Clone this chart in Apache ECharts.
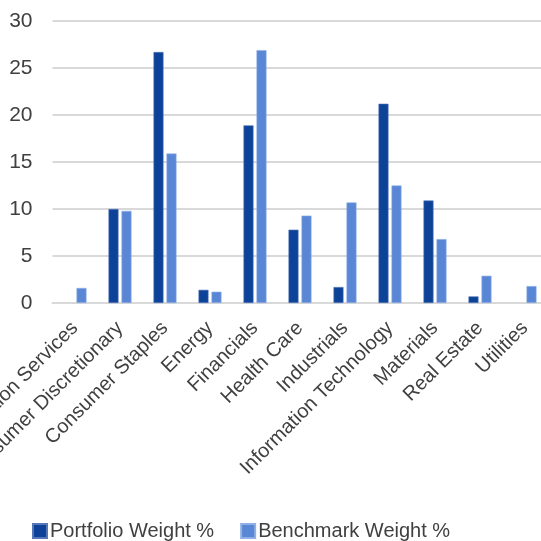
<!DOCTYPE html>
<html>
<head>
<meta charset="utf-8">
<script src="https://cdn.jsdelivr.net/npm/echarts@6/dist/echarts.min.js"></script>
<style>
  html, body { margin: 0; padding: 0; background: #ffffff; }
  #chart { width: 541px; height: 541px; }
</style>
</head>
<body>
<div id="chart"></div>
<script>
// Sector allocation: portfolio vs benchmark weights (%)
const sectors = [
  'Communication Services', 'Consumer Discretionary', 'Consumer Staples', 'Energy',
  'Financials', 'Health Care', 'Industrials', 'Information Technology',
  'Materials', 'Real Estate', 'Utilities'
];
const portfolioWeight = [null, 10.0, 26.7, 1.4, 18.9, 7.8, 1.7, 21.2, 10.9, 0.7, null];
const benchmarkWeight = [1.6, 9.8, 15.9, 1.2, 26.9, 9.3, 10.7, 12.5, 6.8, 2.9, 1.8];
const yTicks = [0, 5, 10, 15, 20, 25, 30];

const fontFamily = '"Liberation Sans", Arial, sans-serif';
const textColor = '#404040';

const chart = echarts.init(document.getElementById('chart'), null, { renderer: 'canvas' });
chart.setOption({
  animation: false,
  backgroundColor: '#ffffff',
  textStyle: { fontFamily: fontFamily },
  grid: {
    left: 52.5, right: -6.5, top: 21, bottom: 238,
    containLabel: false,
    outerBoundsMode: 'none'
  },
  legend: {
    top: 516,
    left: 27,
    itemWidth: 14,
    itemHeight: 14,
    itemGap: 26,
    icon: 'rect',
    textStyle: { fontSize: 20, color: textColor, fontFamily: fontFamily, padding: [0, 0, 0, -2] },
    data: ['Portfolio Weight %', 'Benchmark Weight %']
  },
  xAxis: {
    type: 'category',
    data: sectors,
    axisLine: { show: true, lineStyle: { color: '#d9d9d9', width: 2 } },
    axisTick: { show: false },
    axisLabel: {
      interval: 0,
      rotate: 45,
      margin: 22,
      fontSize: 20,
      color: textColor,
      fontFamily: fontFamily
    }
  },
  yAxis: {
    type: 'value',
    min: yTicks[0],
    max: yTicks[yTicks.length - 1],
    interval: 5,
    axisLine: { show: false },
    axisTick: { show: false },
    splitLine: { lineStyle: { color: '#d9d9d9', width: 2 } },
    axisLabel: { fontSize: 21, color: textColor, margin: 20, fontFamily: fontFamily }
  },
  series: [
    {
      name: 'Portfolio Weight %',
      type: 'bar',
      data: portfolioWeight,
      barWidth: 10,
      barGap: '30%',
      itemStyle: { color: '#0c4298', borderColor: '#5577b8', borderWidth: 0.6 }
    },
    {
      name: 'Benchmark Weight %',
      type: 'bar',
      data: benchmarkWeight,
      barWidth: 10,
      itemStyle: { color: '#5a86d6', borderColor: '#8fb0e6', borderWidth: 0.6 }
    }
  ]
});
</script>
</body>
</html>
